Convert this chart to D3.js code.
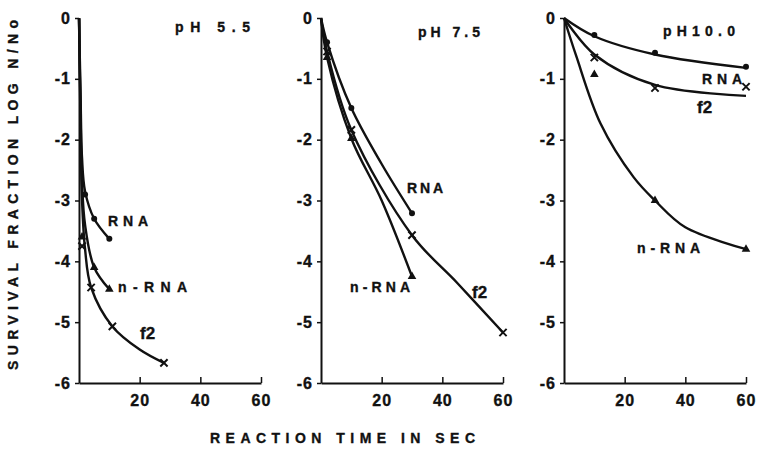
<!DOCTYPE html>
<html>
<head>
<meta charset="utf-8">
<script src="https://cdn.jsdelivr.net/npm/d3@7"></script>
<style>
  html, body { margin: 0; padding: 0; background: #fff; }
  svg { display: block; }
  text { font-family: "Liberation Sans", Arial, sans-serif; font-weight: bold; fill: #111; stroke: #111; stroke-width: 0.35; }
</style>
</head>
<body>
<svg id="viz" width="760" height="455"></svg>
<script>
// tick values shared by all three panels
const xTicks = [20, 40, 60];
const yTicks = [0, -1, -2, -3, -4, -5, -6];
const panelNames = ['pH 5.5', 'pH 7.5', 'pH10.0'];

// pH 5.5 : smooth curves and plotted points, [seconds, log N/No]
const ph55RnaCurve = [[0, 0], [0.5, -1.2], [1, -2.3], [2, -2.85], [5, -3.3], [10, -3.63]];
const ph55RnaPts = [[2, -2.9], [5, -3.3], [10, -3.63]];
const ph55NrnaCurve = [[0, 0], [0.5, -1.5], [1, -2.7], [2, -3.4], [5, -4.1], [10, -4.46]];
const ph55NrnaPts = [[1, -3.6], [5, -4.1], [10, -4.46]];
const ph55F2Curve = [[0, 0], [0.5, -1.7], [1, -3.0], [2, -3.8], [4, -4.43], [11, -5.07], [20, -5.45], [28, -5.67]];
const ph55F2Pts = [[1, -3.75], [4, -4.43], [11, -5.07], [28, -5.67]];

// pH 7.5
const ph75RnaCurve = [[0, 0], [2, -0.4], [10, -1.48], [20, -2.4], [30, -3.21]];
const ph75RnaPts = [[2, -0.4], [10, -1.48], [30, -3.21]];
const ph75NrnaCurve = [[0, 0], [2, -0.65], [10, -1.98], [20, -3.0], [30, -4.25]];
const ph75NrnaPts = [[2, -0.65], [10, -1.98], [30, -4.25]];
const ph75F2Curve = [[0, 0], [2, -0.55], [10, -1.84], [30, -3.57], [45, -4.36], [60, -5.17]];
const ph75F2Pts = [[2, -0.55], [10, -1.84], [30, -3.57], [60, -5.17]];

// pH 10.0
const ph10RnaCurve = [[0, 0], [10, -0.3], [30, -0.6], [60, -0.82]];
const ph10RnaPts = [[10, -0.28], [30, -0.57], [60, -0.8]];
const ph10NrnaCurve = [[0, 0], [4, -0.62], [12, -1.73], [23, -2.62], [30, -3.0], [40, -3.44], [60, -3.8]];
const ph10NrnaPts = [[10, -0.93], [30, -3.0], [60, -3.8]];
const ph10F2Curve = [[0, 0], [10, -0.6], [30, -1.1], [60, -1.28]];
const ph10F2Pts = [[10, -0.65], [30, -1.15], [60, -1.13]];

// label: text, x, baseline y, font size, span width
const panels = [
  { name: panelNames[0], left: 79,
    series: [
      { kind: 'RNA', curve: ph55RnaCurve, pts: ph55RnaPts },
      { kind: 'n-RNA', curve: ph55NrnaCurve, pts: ph55NrnaPts },
      { kind: 'f2', curve: ph55F2Curve, pts: ph55F2Pts },
    ],
    labels: [['pH 5.5', 175, 32, 14, 75], ['RNA', 108, 226, 14, 40], ['n-RNA', 118, 292, 14, 69], ['f2', 140, 339, 17, 0]] },
  { name: panelNames[1], left: 321,
    series: [
      { kind: 'RNA', curve: ph75RnaCurve, pts: ph75RnaPts },
      { kind: 'n-RNA', curve: ph75NrnaCurve, pts: ph75NrnaPts },
      { kind: 'f2', curve: ph75F2Curve, pts: ph75F2Pts },
    ],
    labels: [['pH 7.5', 418, 37, 14, 62], ['RNA', 407, 193, 14, 36], ['n-RNA', 350, 292, 14, 60], ['f2', 472, 298, 17, 0]] },
  { name: panelNames[2], left: 564,
    series: [
      { kind: 'RNA', curve: ph10RnaCurve, pts: ph10RnaPts },
      { kind: 'n-RNA', curve: ph10NrnaCurve, pts: ph10NrnaPts },
      { kind: 'f2', curve: ph10F2Curve, pts: ph10F2Pts },
    ],
    labels: [['pH10.0', 663, 36, 14, 72], ['RNA', 702, 84, 14, 40], ['f2', 697, 113, 17, 0], ['n-RNA', 637, 253, 14, 63]] },
];

const svg = d3.select('#viz');
const plotTop = 18, plotW = 182, plotH = 365;
const ink = '#111';

const x = d3.scaleLinear().domain([0, 60]).range([0, plotW]);
const y = d3.scaleLinear().domain([0, -6]).range([0, plotH]);

const line = d3.line()
  .x(d => x(d[0]))
  .y(d => y(d[1]))
  .curve(d3.curveCatmullRom.alpha(0.5));

function drawMarker(g, kind, px, py) {
  if (kind === 'RNA') {
    g.append('circle').attr('cx', px).attr('cy', py).attr('r', 3).attr('fill', ink);
  } else if (kind === 'n-RNA') {
    g.append('path').attr('transform', `translate(${px},${py})`)
      .attr('d', d3.symbol(d3.symbolTriangle, 32)()).attr('fill', ink);
  } else {
    g.append('path').attr('transform', `translate(${px},${py})`)
      .attr('d', d3.symbol(d3.symbolTimes, 36)()).attr('fill', 'none')
      .attr('stroke', ink).attr('stroke-width', 2);
  }
}

for (const p of panels) {
  const g = svg.append('g').attr('transform', `translate(${p.left},${plotTop})`);

  const yAxis = d3.axisLeft(y).tickValues(yTicks).tickSize(4).tickSizeOuter(0)
    .tickFormat(d => (d === 0 ? '0' : '-' + Math.abs(d))).tickPadding(4);
  const ya = g.append('g').call(yAxis);
  ya.select('.domain').attr('stroke', ink).attr('stroke-width', 2);
  ya.selectAll('.tick line').attr('stroke', ink).attr('stroke-width', 1.5);
  ya.selectAll('.tick text').attr('font-size', 16).attr('font-family', '"Liberation Sans", Arial, sans-serif')
    .attr('font-weight', 'bold').attr('fill', ink).attr('letter-spacing', 1);

  const xAxis = d3.axisBottom(x).tickValues(xTicks).tickSize(-6).tickSizeOuter(0).tickPadding(12);
  const xa = g.append('g').attr('transform', `translate(0,${plotH})`).call(xAxis);
  xa.select('.domain').attr('stroke', ink).attr('stroke-width', 2);
  xa.selectAll('.tick line').attr('stroke', ink).attr('stroke-width', 1.5);
  xa.selectAll('.tick text').attr('font-size', 16).attr('font-family', '"Liberation Sans", Arial, sans-serif')
    .attr('font-weight', 'bold').attr('fill', ink).attr('letter-spacing', 1);

  for (const s of p.series) {
    g.append('path').datum(s.curve).attr('d', line)
      .attr('fill', 'none').attr('stroke', ink).attr('stroke-width', 2.4);
    for (const d of s.pts) drawMarker(g, s.kind, x(d[0]), y(d[1]));
  }

  for (const [txt, lx, ly, fs, span] of p.labels) {
    const t = svg.append('text').attr('x', lx).attr('y', ly).attr('font-size', fs).text(txt);
    if (span) t.attr('textLength', span).attr('lengthAdjust', 'spacing');
  }
}

// axis titles
svg.append('text')
  .attr('transform', 'translate(18,195) rotate(-90)')
  .attr('x', -175).attr('y', 0)
  .attr('font-size', 14).attr('textLength', 350).attr('lengthAdjust', 'spacing')
  .text('SURVIVAL FRACTION LOG N/No');

svg.append('text')
  .attr('x', 210).attr('y', 443)
  .attr('font-size', 14).attr('textLength', 265).attr('lengthAdjust', 'spacing')
  .text('REACTION TIME IN SEC');
</script>
</body>
</html>
